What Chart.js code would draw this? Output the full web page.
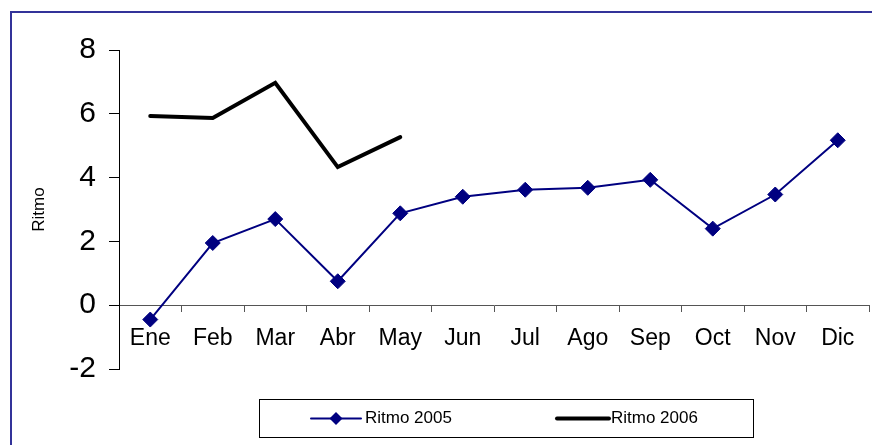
<!DOCTYPE html>
<html>
<head>
<meta charset="utf-8">
<script src="https://cdn.jsdelivr.net/npm/chart.js@4"></script>
<style>
  html, body { margin: 0; padding: 0; background: #fff; }
  #wrap { position: relative; width: 872px; height: 445px; overflow: hidden; }
  #frame {
    position: absolute; left: 10px; top: 11px; width: 900px; height: 500px;
    border: 2px solid #333399; box-sizing: border-box;
  }
  canvas { position: absolute; left: 0; top: 0; }
</style>
</head>
<body>
<div id="wrap">
  <div id="frame"></div>
  <canvas id="chart" width="872" height="445"></canvas>
</div>
<script>
  const months = ['Ene', 'Feb', 'Mar', 'Abr', 'May', 'Jun', 'Jul', 'Ago', 'Sep', 'Oct', 'Nov', 'Dic'];
  const ritmo2005 = [-0.45, 1.95, 2.7, 0.75, 2.88, 3.4, 3.62, 3.68, 3.93, 2.4, 3.47, 5.17];
  const ritmo2006 = [5.93, 5.87, 6.97, 4.33, 5.27];
  const yTicks = [-2, 0, 2, 4, 6, 8];

  const fontFamily = "'Liberation Sans', Arial, sans-serif";

  // legend drawn in a boxed strip under the plot, like the original
  const boxLegend = {
    id: 'boxLegend',
    afterDraw(chart) {
      const ctx = chart.ctx;
      const ds = chart.data.datasets;
      ctx.save();
      ctx.fillStyle = '#fff';
      ctx.fillRect(259.5, 399.5, 494, 38);
      ctx.strokeStyle = '#000';
      ctx.lineWidth = 1;
      ctx.strokeRect(259.5, 399.5, 494, 38);

      const y = 418.5;
      const items = [
        { x0: 311, x1: 361, tx: 365 },
        { x0: 557, x1: 609, tx: 611 }
      ];
      items.forEach((it, i) => {
        const d = ds[i];
        ctx.strokeStyle = d.borderColor;
        ctx.lineWidth = d.borderWidth;
        ctx.lineCap = 'round';
        ctx.beginPath();
        ctx.moveTo(it.x0, y);
        ctx.lineTo(it.x1, y);
        ctx.stroke();
        if (d.pointRadius > 0) {
          const r = 6.5;
          const cx = (it.x0 + it.x1) / 2;
          ctx.fillStyle = d.pointBackgroundColor;
          ctx.beginPath();
          ctx.moveTo(cx, y - r);
          ctx.lineTo(cx + r, y);
          ctx.lineTo(cx, y + r);
          ctx.lineTo(cx - r, y);
          ctx.closePath();
          ctx.fill();
        }
        ctx.fillStyle = '#000';
        ctx.font = '17px ' + fontFamily;
        ctx.textBaseline = 'middle';
        ctx.textAlign = 'left';
        ctx.fillText(d.label, it.tx, y);
      });
      ctx.restore();
    }
  };

  new Chart(document.getElementById('chart'), {
    type: 'line',
    data: {
      labels: months,
      datasets: [
        {
          label: 'Ritmo 2005',
          data: ritmo2005,
          borderColor: '#000080',
          backgroundColor: '#000080',
          pointBackgroundColor: '#000080',
          pointBorderColor: '#000080',
          borderWidth: 2,
          pointStyle: 'rectRot',
          pointRadius: 7.5,
          pointBorderWidth: 1,
          tension: 0
        },
        {
          label: 'Ritmo 2006',
          data: ritmo2006,
          borderColor: '#000000',
          backgroundColor: '#000000',
          pointBackgroundColor: '#000000',
          borderWidth: 4,
          pointRadius: 0,
          borderCapStyle: 'round',
          borderJoinStyle: 'miter',
          tension: 0
        }
      ]
    },
    options: {
      responsive: false,
      animation: false,
      layout: { autoPadding: false, padding: { left: 0, right: 3, top: 50, bottom: 76 } },
      plugins: {
        legend: { display: false },
        tooltip: { enabled: false }
      },
      scales: {
        x: {
          type: 'category',
          position: { y: 0 },
          offset: true,
          grid: {
            offset: true,
            drawOnChartArea: false,
            drawTicks: true,
            tickLength: 6,
            color: '#555'
          },
          border: { display: true, color: '#555', width: 1 },
          ticks: {
            color: '#000',
            padding: 14,
            maxRotation: 0,
            autoSkip: false,
            font: { family: fontFamily, size: 23 }
          }
        },
        y: {
          min: -2,
          max: 8,
          afterFit(scale) { scale.width = 119; },
          afterBuildTicks(scale) { scale.ticks = yTicks.map((v) => ({ value: v })); },
          grid: {
            drawOnChartArea: false,
            drawTicks: true,
            tickLength: 10,
            color: '#000'
          },
          border: { display: true, color: '#000', width: 1 },
          ticks: {
            color: '#000',
            padding: 13,
            font: { family: fontFamily, size: 30 }
          },
          title: {
            display: true,
            text: 'Ritmo',
            color: '#000',
            padding: { top: 29, bottom: 0 },
            font: { family: fontFamily, size: 17 }
          }
        }
      }
    },
    plugins: [boxLegend]
  });
</script>
</body>
</html>
